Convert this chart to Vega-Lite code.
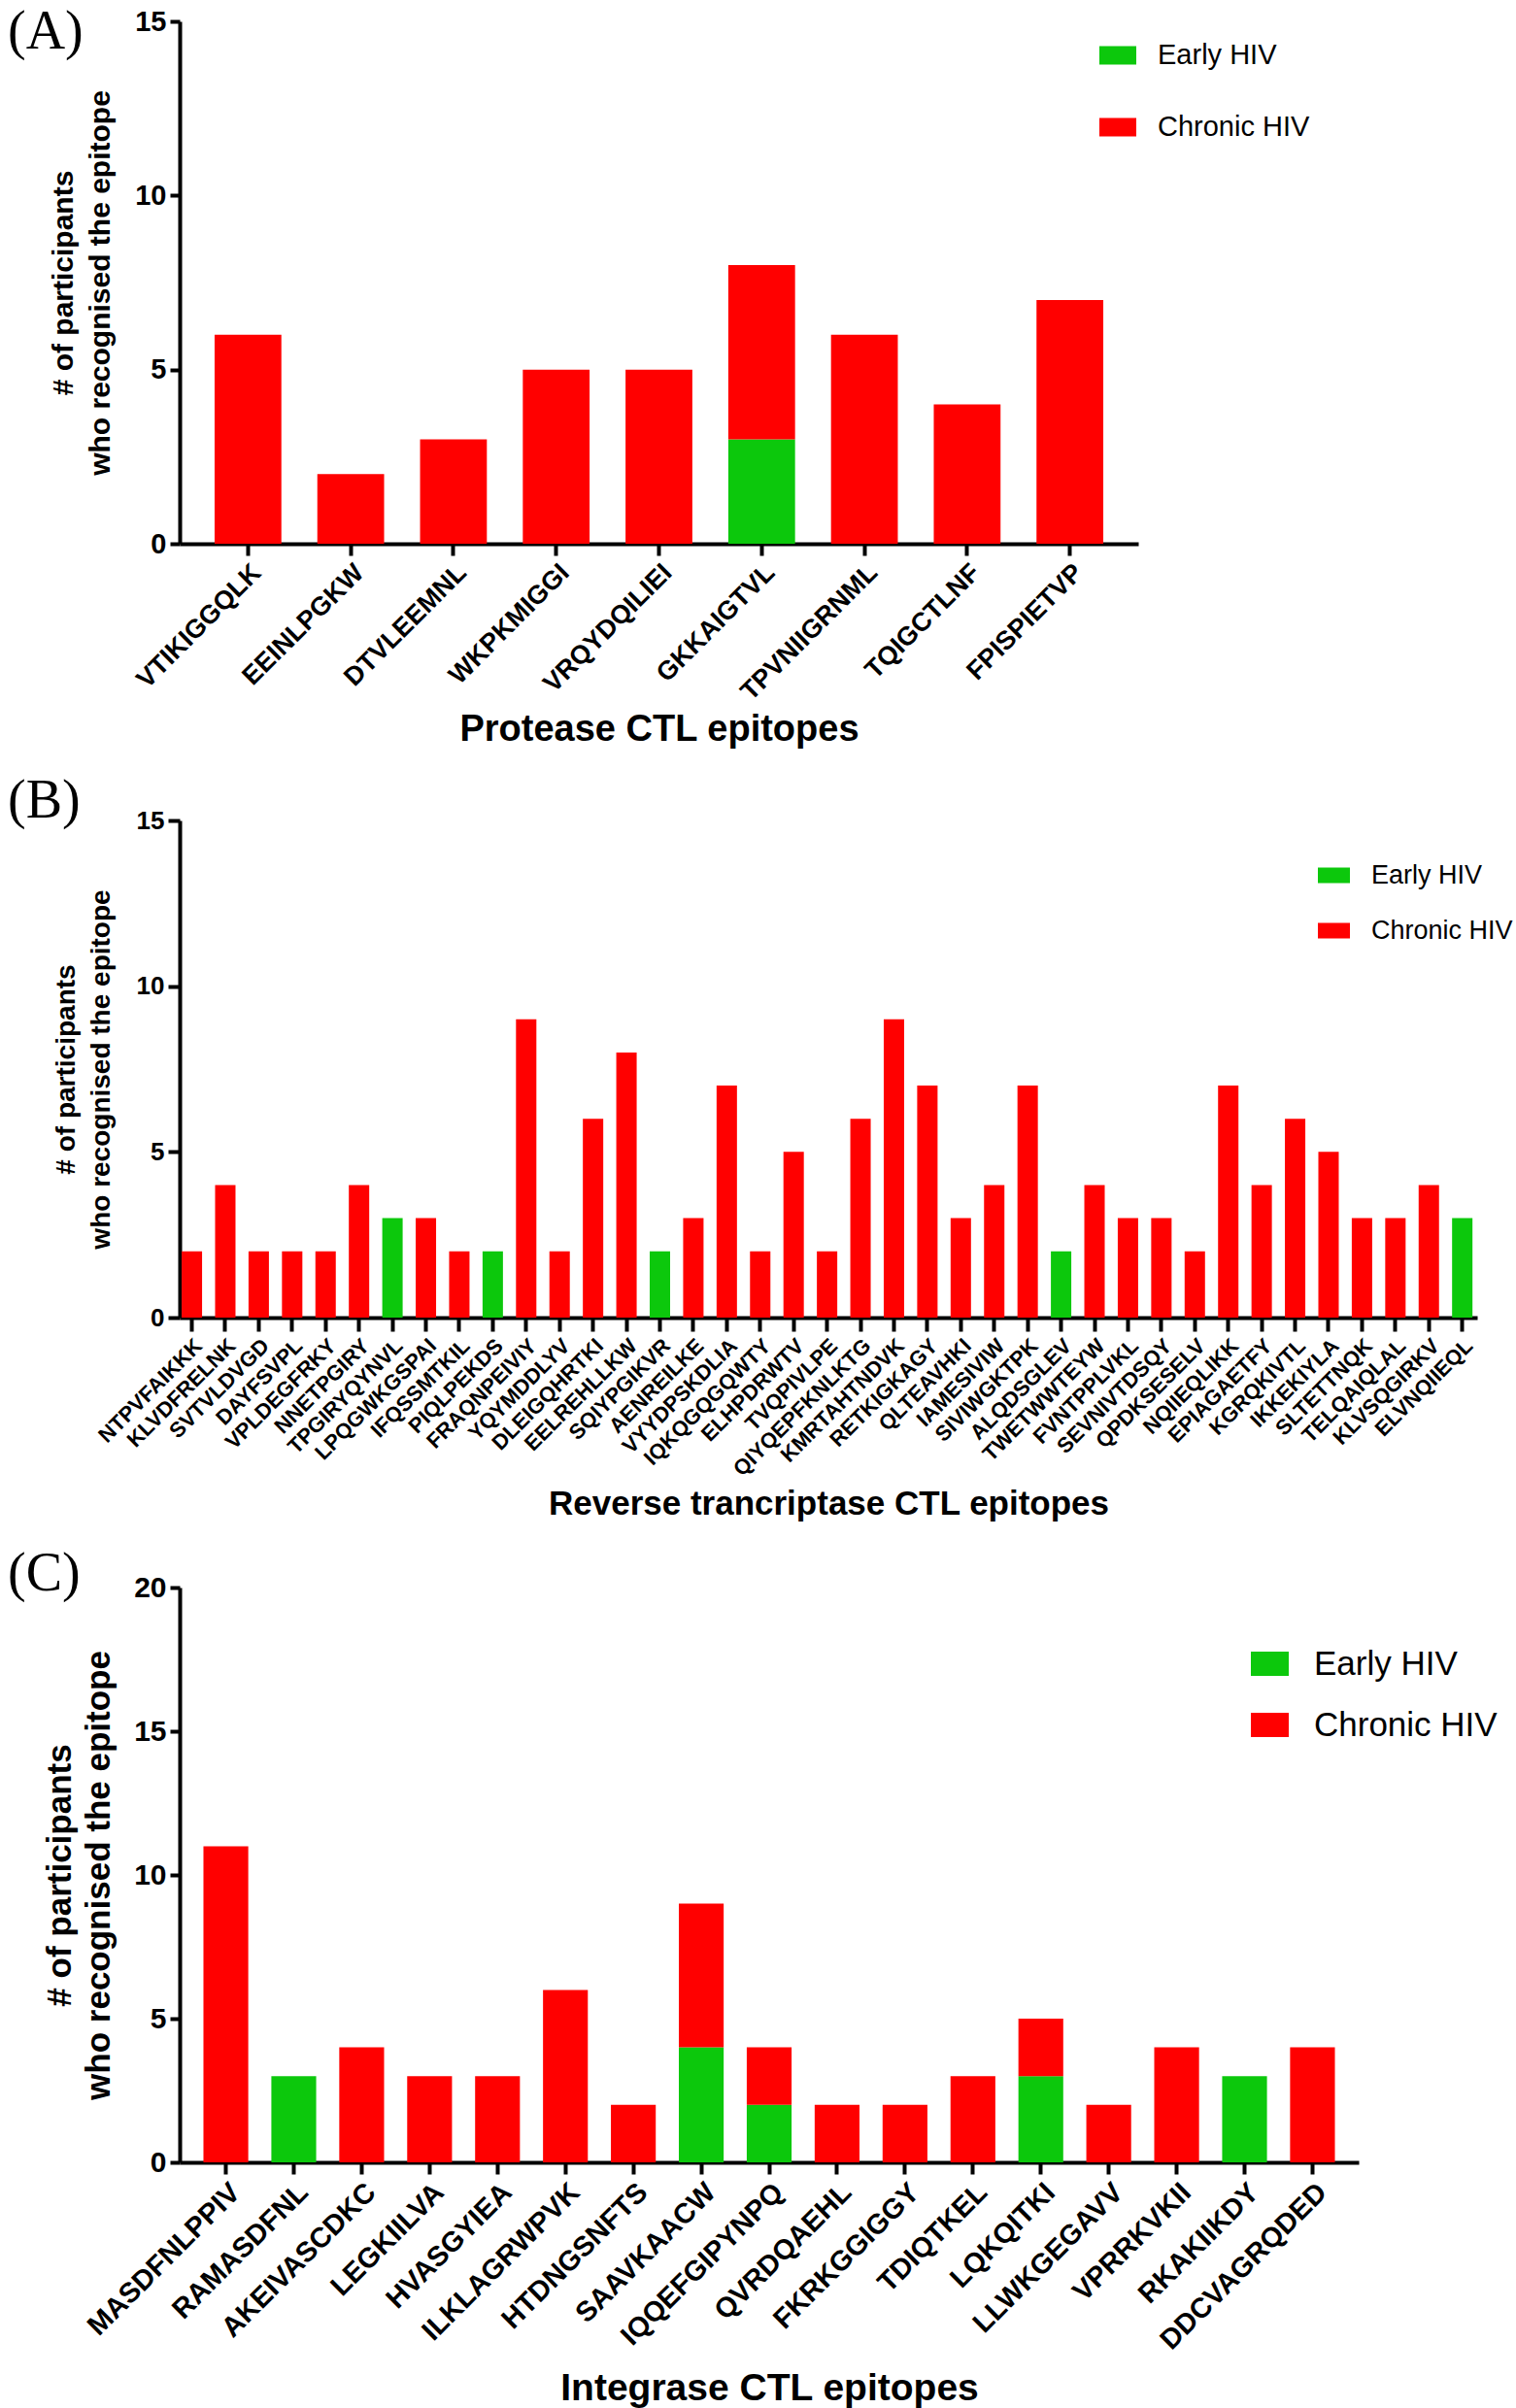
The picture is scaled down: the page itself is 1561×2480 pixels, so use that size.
{
  "$schema": "https://vega.github.io/schema/vega-lite/v6.json",
  "padding": {"left": 8, "top": 5, "right": 0, "bottom": 0},
  "background": "white",
  "resolve": {"scale": {"color": "independent"}, "legend": {"color": "independent"}},
  "config": {
    "view": {"stroke": null},
    "font": "Liberation Sans",
    "axis": {"domainColor": "black", "domainWidth": 4, "tickColor": "black", "tickWidth": 4, "labelColor": "black", "titleColor": "black", "labelFontWeight": "bold", "titleFontWeight": "bold", "grid": false, "labelFont": "Liberation Sans", "titleFont": "Liberation Sans", "labelLimit": 500},
    "legend": {"labelFont": "Liberation Sans", "labelColor": "black", "labelLimit": 500},
    "title": {"font": "Liberation Serif", "fontWeight": "normal", "color": "black", "anchor": "start", "frame": "group", "baseline": "alphabetic", "fontSize": 56},
    "concat": {"spacing": 26}
  },
  "vconcat": [
    {
      "title": {"text": "(A)", "dx": -177, "offset": -54},
      "width": 987,
      "height": 538,
      "data": {"values": [
        {"epitope": "VTIKIGGQLK", "status": "Chronic HIV", "count": 6},
        {"epitope": "EEINLPGKW", "status": "Chronic HIV", "count": 2},
        {"epitope": "DTVLEEMNL", "status": "Chronic HIV", "count": 3},
        {"epitope": "WKPKMIGGI", "status": "Chronic HIV", "count": 5},
        {"epitope": "VRQYDQILIEI", "status": "Chronic HIV", "count": 5},
        {"epitope": "GKKAIGTVL", "status": "Early HIV", "count": 3},
        {"epitope": "GKKAIGTVL", "status": "Chronic HIV", "count": 5},
        {"epitope": "TPVNIIGRNML", "status": "Chronic HIV", "count": 6},
        {"epitope": "TQIGCTLNF", "status": "Chronic HIV", "count": 4},
        {"epitope": "FPISPIETVP", "status": "Chronic HIV", "count": 7}
      ]},
      "mark": {"type": "bar"},
      "encoding": {
        "x": {"field": "epitope", "type": "nominal", "sort": null, "scale": {"paddingInner": 0.35, "paddingOuter": 0.34},
          "axis": {"title": "Protease CTL epitopes", "labelAngle": -45, "labelFontSize": 27, "titleFontSize": 38, "tickSize": 12, "labelPadding": 4, "titlePadding": 7}},
        "y": {"field": "count", "type": "quantitative", "stack": "zero", "scale": {"domain": [0, 15], "nice": false},
          "axis": {"values": [0, 5, 10, 15], "title": ["# of participants", "who recognised the epitope"], "labelFontSize": 29, "titleFontSize": 30, "titleLineHeight": 38, "tickSize": 10, "labelPadding": 4, "titlePadding": 20}},
        "color": {"field": "status", "type": "nominal", "scale": {"domain": ["Early HIV", "Chronic HIV"], "range": ["#0CC80C", "#FF0000"]},
          "legend": {"title": null, "orient": "none", "legendX": 947, "legendY": 16, "symbolType": "M-1,-0.5H1V0.5H-1Z", "symbolSize": 1444, "symbolStrokeWidth": 0, "symbolOpacity": 1, "labelFontSize": 29, "labelOffset": 22, "rowPadding": 40, "padding": 0}},
        "order": {"field": "status", "sort": "descending"}
      }
    },
    {
      "title": {"text": "(B)", "dx": -177, "offset": -22},
      "width": 1336,
      "height": 512,
      "data": {"values": [
        {"epitope": "NTPVFAIKKK", "status": "Chronic HIV", "count": 2},
        {"epitope": "KLVDFRELNK", "status": "Chronic HIV", "count": 4},
        {"epitope": "SVTVLDVGD", "status": "Chronic HIV", "count": 2},
        {"epitope": "DAYFSVPL", "status": "Chronic HIV", "count": 2},
        {"epitope": "VPLDEGFRKY", "status": "Chronic HIV", "count": 2},
        {"epitope": "NNETPGIRY", "status": "Chronic HIV", "count": 4},
        {"epitope": "TPGIRYQYNVL", "status": "Early HIV", "count": 3},
        {"epitope": "LPQGWKGSPAI", "status": "Chronic HIV", "count": 3},
        {"epitope": "IFQSSMTKIL", "status": "Chronic HIV", "count": 2},
        {"epitope": "PIQLPEKDS", "status": "Early HIV", "count": 2},
        {"epitope": "FRAQNPEIVIY", "status": "Chronic HIV", "count": 9},
        {"epitope": "YQYMDDLYV", "status": "Chronic HIV", "count": 2},
        {"epitope": "DLEIGQHRTKI", "status": "Chronic HIV", "count": 6},
        {"epitope": "EELREHLLKW", "status": "Chronic HIV", "count": 8},
        {"epitope": "SQIYPGIKVR", "status": "Early HIV", "count": 2},
        {"epitope": "AENREILKE", "status": "Chronic HIV", "count": 3},
        {"epitope": "VYYDPSKDLIA", "status": "Chronic HIV", "count": 7},
        {"epitope": "IQKQGQGQWTY", "status": "Chronic HIV", "count": 2},
        {"epitope": "ELHPDRWTV", "status": "Chronic HIV", "count": 5},
        {"epitope": "TVQPIVLPE", "status": "Chronic HIV", "count": 2},
        {"epitope": "QIYQEPFKNLKTG", "status": "Chronic HIV", "count": 6},
        {"epitope": "KMRTAHTNDVK", "status": "Chronic HIV", "count": 9},
        {"epitope": "RETKIGKAGY", "status": "Chronic HIV", "count": 7},
        {"epitope": "QLTEAVHKI", "status": "Chronic HIV", "count": 3},
        {"epitope": "IAMESIVIW", "status": "Chronic HIV", "count": 4},
        {"epitope": "SIVIWGKTPK", "status": "Chronic HIV", "count": 7},
        {"epitope": "ALQDSGLEV", "status": "Early HIV", "count": 2},
        {"epitope": "TWETWWTEYW", "status": "Chronic HIV", "count": 4},
        {"epitope": "FVNTPPLVKL", "status": "Chronic HIV", "count": 3},
        {"epitope": "SEVNIVTDSQY", "status": "Chronic HIV", "count": 3},
        {"epitope": "QPDKSESELV", "status": "Chronic HIV", "count": 2},
        {"epitope": "NQIIEQLIKK", "status": "Chronic HIV", "count": 7},
        {"epitope": "EPIAGAETFY", "status": "Chronic HIV", "count": 4},
        {"epitope": "KGRQKIVTL", "status": "Chronic HIV", "count": 6},
        {"epitope": "IKKEKIYLA", "status": "Chronic HIV", "count": 5},
        {"epitope": "SLTETTNQK", "status": "Chronic HIV", "count": 3},
        {"epitope": "TELQAIQLAL", "status": "Chronic HIV", "count": 3},
        {"epitope": "KLVSQGIRKV", "status": "Chronic HIV", "count": 4},
        {"epitope": "ELVNQIIEQL", "status": "Early HIV", "count": 3}
      ]},
      "mark": {"type": "bar"},
      "encoding": {
        "x": {"field": "epitope", "type": "nominal", "sort": null, "scale": {"paddingInner": 0.39, "paddingOuter": 0.1, "align": 0.3},
          "axis": {"title": "Reverse trancriptase CTL epitopes", "labelAngle": -45, "labelFontSize": 22, "titleFontSize": 35, "tickSize": 14, "labelPadding": 4, "titlePadding": 8}},
        "y": {"field": "count", "type": "quantitative", "stack": "zero", "scale": {"domain": [0, 15], "nice": false},
          "axis": {"values": [0, 5, 10, 15], "title": ["# of participants", "who recognised the epitope"], "labelFontSize": 26, "titleFontSize": 28, "titleLineHeight": 36, "tickSize": 12, "labelPadding": 4, "titlePadding": 22}},
        "color": {"field": "status", "type": "nominal", "scale": {"domain": ["Early HIV", "Chronic HIV"], "range": ["#0CC80C", "#FF0000"]},
          "legend": {"title": null, "orient": "none", "legendX": 1172, "legendY": 40, "symbolType": "M-1,-0.485H1V0.485H-1Z", "symbolSize": 1089, "symbolStrokeWidth": 0, "symbolOpacity": 1, "labelFontSize": 27, "labelOffset": 22, "rowPadding": 27, "padding": 0}},
        "order": {"field": "status", "sort": "descending"}
      }
    },
    {
      "title": {"text": "(C)", "dx": -177, "offset": -30},
      "width": 1214,
      "height": 592,
      "data": {"values": [
        {"epitope": "MASDFNLPPIV", "status": "Chronic HIV", "count": 11},
        {"epitope": "RAMASDFNL", "status": "Early HIV", "count": 3},
        {"epitope": "AKEIVASCDKC", "status": "Chronic HIV", "count": 4},
        {"epitope": "LEGKIILVA", "status": "Chronic HIV", "count": 3},
        {"epitope": "HVASGYIEA", "status": "Chronic HIV", "count": 3},
        {"epitope": "ILKLAGRWPVK", "status": "Chronic HIV", "count": 6},
        {"epitope": "HTDNGSNFTS", "status": "Chronic HIV", "count": 2},
        {"epitope": "SAAVKAACW", "status": "Early HIV", "count": 4},
        {"epitope": "SAAVKAACW", "status": "Chronic HIV", "count": 5},
        {"epitope": "IQQEFGIPYNPQ", "status": "Early HIV", "count": 2},
        {"epitope": "IQQEFGIPYNPQ", "status": "Chronic HIV", "count": 2},
        {"epitope": "QVRDQAEHL", "status": "Chronic HIV", "count": 2},
        {"epitope": "FKRKGGIGGY", "status": "Chronic HIV", "count": 2},
        {"epitope": "TDIQTKEL", "status": "Chronic HIV", "count": 3},
        {"epitope": "LQKQITKI", "status": "Early HIV", "count": 3},
        {"epitope": "LQKQITKI", "status": "Chronic HIV", "count": 2},
        {"epitope": "LLWKGEGAVV", "status": "Chronic HIV", "count": 2},
        {"epitope": "VPRRKVKII", "status": "Chronic HIV", "count": 4},
        {"epitope": "RKAKIIKDY", "status": "Early HIV", "count": 3},
        {"epitope": "DDCVAGRQDED", "status": "Chronic HIV", "count": 4}
      ]},
      "mark": {"type": "bar"},
      "encoding": {
        "x": {"field": "epitope", "type": "nominal", "sort": null, "scale": {"paddingInner": 0.34, "paddingOuter": 0.35},
          "axis": {"title": "Integrase CTL epitopes", "labelAngle": -45, "labelFontSize": 29, "titleFontSize": 39, "tickSize": 12, "labelPadding": 4, "titlePadding": 16}},
        "y": {"field": "count", "type": "quantitative", "stack": "zero", "scale": {"domain": [0, 20], "nice": false},
          "axis": {"values": [0, 5, 10, 15, 20], "title": ["# of participants", "who recognised the epitope"], "labelFontSize": 30, "titleFontSize": 35, "titleLineHeight": 40, "tickSize": 10, "labelPadding": 4, "titlePadding": 18}},
        "color": {"field": "status", "type": "nominal", "scale": {"domain": ["Early HIV", "Chronic HIV"], "range": ["#0CC80C", "#FF0000"]},
          "legend": {"title": null, "orient": "none", "legendX": 1103, "legendY": 59, "symbolType": "M-1,-0.64H1V0.64H-1Z", "symbolSize": 1521, "symbolStrokeWidth": 0, "symbolOpacity": 1, "labelFontSize": 35, "labelOffset": 26, "rowPadding": 25, "padding": 0}},
        "order": {"field": "status", "sort": "descending"}
      }
    }
  ]
}
